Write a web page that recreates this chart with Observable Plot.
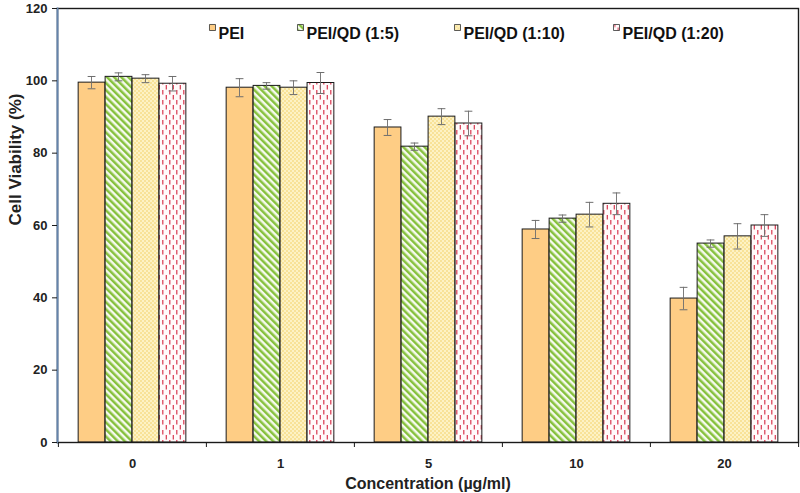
<!DOCTYPE html>
<html>
<head>
<meta charset="utf-8">
<script src="https://cdn.jsdelivr.net/npm/d3@7"></script>
<script src="https://cdn.jsdelivr.net/npm/@observablehq/plot@0.6"></script>
<style>
  html, body { margin: 0; padding: 0; background: #fff; }
  #chart { width: 800px; height: 493px; }
</style>
</head>
<body>
<div id="chart"></div>
<script>
// ---- data ----
const concentrations = ["0", "1", "5", "10", "20"];
const seriesNames = ["PEI", "PEI/QD (1:5)", "PEI/QD (1:10)", "PEI/QD (1:20)"];
const peiValues   = [99.5, 98.1, 87.1, 58.9, 39.8];
const qd15Values  = [101.1, 98.6, 81.8, 61.9, 55.0];
const qd110Values = [100.6, 98.1, 90.1, 63.0, 57.0];
const qd120Values = [99.2, 99.4, 88.2, 66.0, 60.0];
const peiErrors   = [1.7, 2.5, 2.2, 2.5, 3.1];
const qd15Errors  = [1.1, 0.9, 1.0, 1.0, 1.0];
const qd110Errors = [1.1, 1.9, 2.2, 3.4, 3.5];
const qd120Errors = [2.0, 2.9, 3.4, 3.0, 3.0];
const yTicks = [0, 20, 40, 60, 80, 100, 120];

const valuesBySeries = [peiValues, qd15Values, qd110Values, qd120Values];
const errorsBySeries = [peiErrors, qd15Errors, qd110Errors, qd120Errors];
const rows = seriesNames.map((s, i) => concentrations.map((c, j) => ({
  series: s, conc: c, value: valuesBySeries[i][j], err: errorsBySeries[i][j]
})));

// ---- layout / style ----
const W = 800, H = 493;
const mL = 57, mR = 2, mT = 8, mB = 51;
const step = (W - mL - mR) / concentrations.length;
const barW = step * 0.182;
const groupOff = (step - seriesNames.length * barW) / 2;
const fills = ["#FECD85", "url(#pat-green)", "url(#pat-yellow)", "url(#pat-red)"];
const errColor = "#6e6e6e";
const capHalf = 4;

const barMarks = rows.map((data, i) => Plot.barY(data, {
  x: "conc", y: "value", fill: fills[i], stroke: "#1a1a1a", strokeWidth: 1,
  insetLeft: groupOff + i * barW,
  insetRight: step - groupOff - (i + 1) * barW
}));

const errMarks = rows.flatMap((data, i) => {
  const cx = groupOff + (i + 0.5) * barW;
  return [
    Plot.barY(data, {
      x: "conc", y1: d => d.value - d.err, y2: d => d.value + d.err,
      fill: errColor, insetLeft: cx - 0.55, insetRight: step - cx - 0.55
    }),
    Plot.tickY(data, {
      x: "conc", y: d => d.value + d.err, stroke: errColor, strokeWidth: 1,
      insetLeft: cx - capHalf, insetRight: step - cx - capHalf
    }),
    Plot.tickY(data, {
      x: "conc", y: d => d.value - d.err, stroke: errColor, strokeWidth: 1,
      insetLeft: cx - capHalf, insetRight: step - cx - capHalf
    })
  ];
});

// legend positions (relative to the frame's top-left)
const legendSquareDx = [155, 243, 400, 559];
const legendMarks = seriesNames.flatMap((s, i) => [
  Plot.dot([s], {frameAnchor: "top-left", dx: legendSquareDx[i], dy: 19,
    symbol: "square", r: 3.4, fill: fills[i], stroke: "#333", strokeWidth: 0.8}),
  Plot.text([s], {text: d => d, frameAnchor: "top-left", dx: legendSquareDx[i] + 6, dy: 19,
    textAnchor: "start", fontSize: 16, fontWeight: "bold", fill: "#111"})
]);

const plot = Plot.plot({
  width: W, height: H,
  marginLeft: mL, marginRight: mR, marginTop: mT, marginBottom: mB,
  style: {fontFamily: "'Liberation Sans', Arial, sans-serif", background: "#fff"},
  x: {type: "band", domain: concentrations, padding: 0},
  y: {domain: [0, 120]},
  marks: [
    ...barMarks,
    ...errMarks,
    Plot.frame({stroke: "#1a1a1a", strokeWidth: 1.4}),
    Plot.frame({anchor: "left", stroke: "#6584ab", strokeWidth: 2}),
    Plot.axisY({ticks: yTicks, tickSize: 5, tickPadding: 5, label: null,
      fontSize: 13, fontWeight: "bold", stroke: "#1a1a1a", fill: "#222"}),
    Plot.axisX({tickSize: 0, tickPadding: 16, label: null,
      fontSize: 13, fontWeight: "bold", fill: "#222"}),
    Plot.axisX({tickSize: 5, dx: -step / 2, label: null, tickFormat: () => "", stroke: "#1a1a1a"}),
    Plot.axisX({ticks: [concentrations[concentrations.length - 1]], tickSize: 5, dx: step / 2,
      label: null, tickFormat: () => "", stroke: "#1a1a1a"}),
    Plot.text(["Cell Viability (%)"], {text: d => d, frameAnchor: "left", dx: -42, rotate: -90,
      fontSize: 17, fontWeight: "bold", fill: "#222"}),
    Plot.text(["Concentration (\u00b5g/ml)"], {text: d => d, frameAnchor: "bottom", dy: 46,
      fontSize: 16, fontWeight: "bold", fill: "#222"}),
    ...legendMarks
  ]
});

const defs = `
<defs>
  <pattern id="pat-green" patternUnits="userSpaceOnUse" width="5" height="5" patternTransform="rotate(-45)">
    <rect width="5" height="5" fill="#f6faee"/>
    <rect x="0" y="0" width="2.5" height="5" fill="#86c13d"/>
  </pattern>
  <pattern id="pat-yellow" patternUnits="userSpaceOnUse" width="4" height="4">
    <rect width="4" height="4" fill="#fdf2c4"/>
    <circle cx="1" cy="1" r="0.7" fill="#f0c64a"/>
    <circle cx="3" cy="3" r="0.7" fill="#f0c64a"/>
  </pattern>
  <pattern id="pat-red" patternUnits="userSpaceOnUse" width="7" height="10">
    <rect width="7" height="10" fill="#fffbfb"/>
    <rect x="1.2" y="0" width="1.2" height="4.5" fill="#d8374f"/>
    <rect x="4.7" y="5" width="1.2" height="4.5" fill="#d8374f"/>
  </pattern>
</defs>`;
plot.insertAdjacentHTML("afterbegin", defs);
document.getElementById("chart").appendChild(plot);
</script>
</body>
</html>
